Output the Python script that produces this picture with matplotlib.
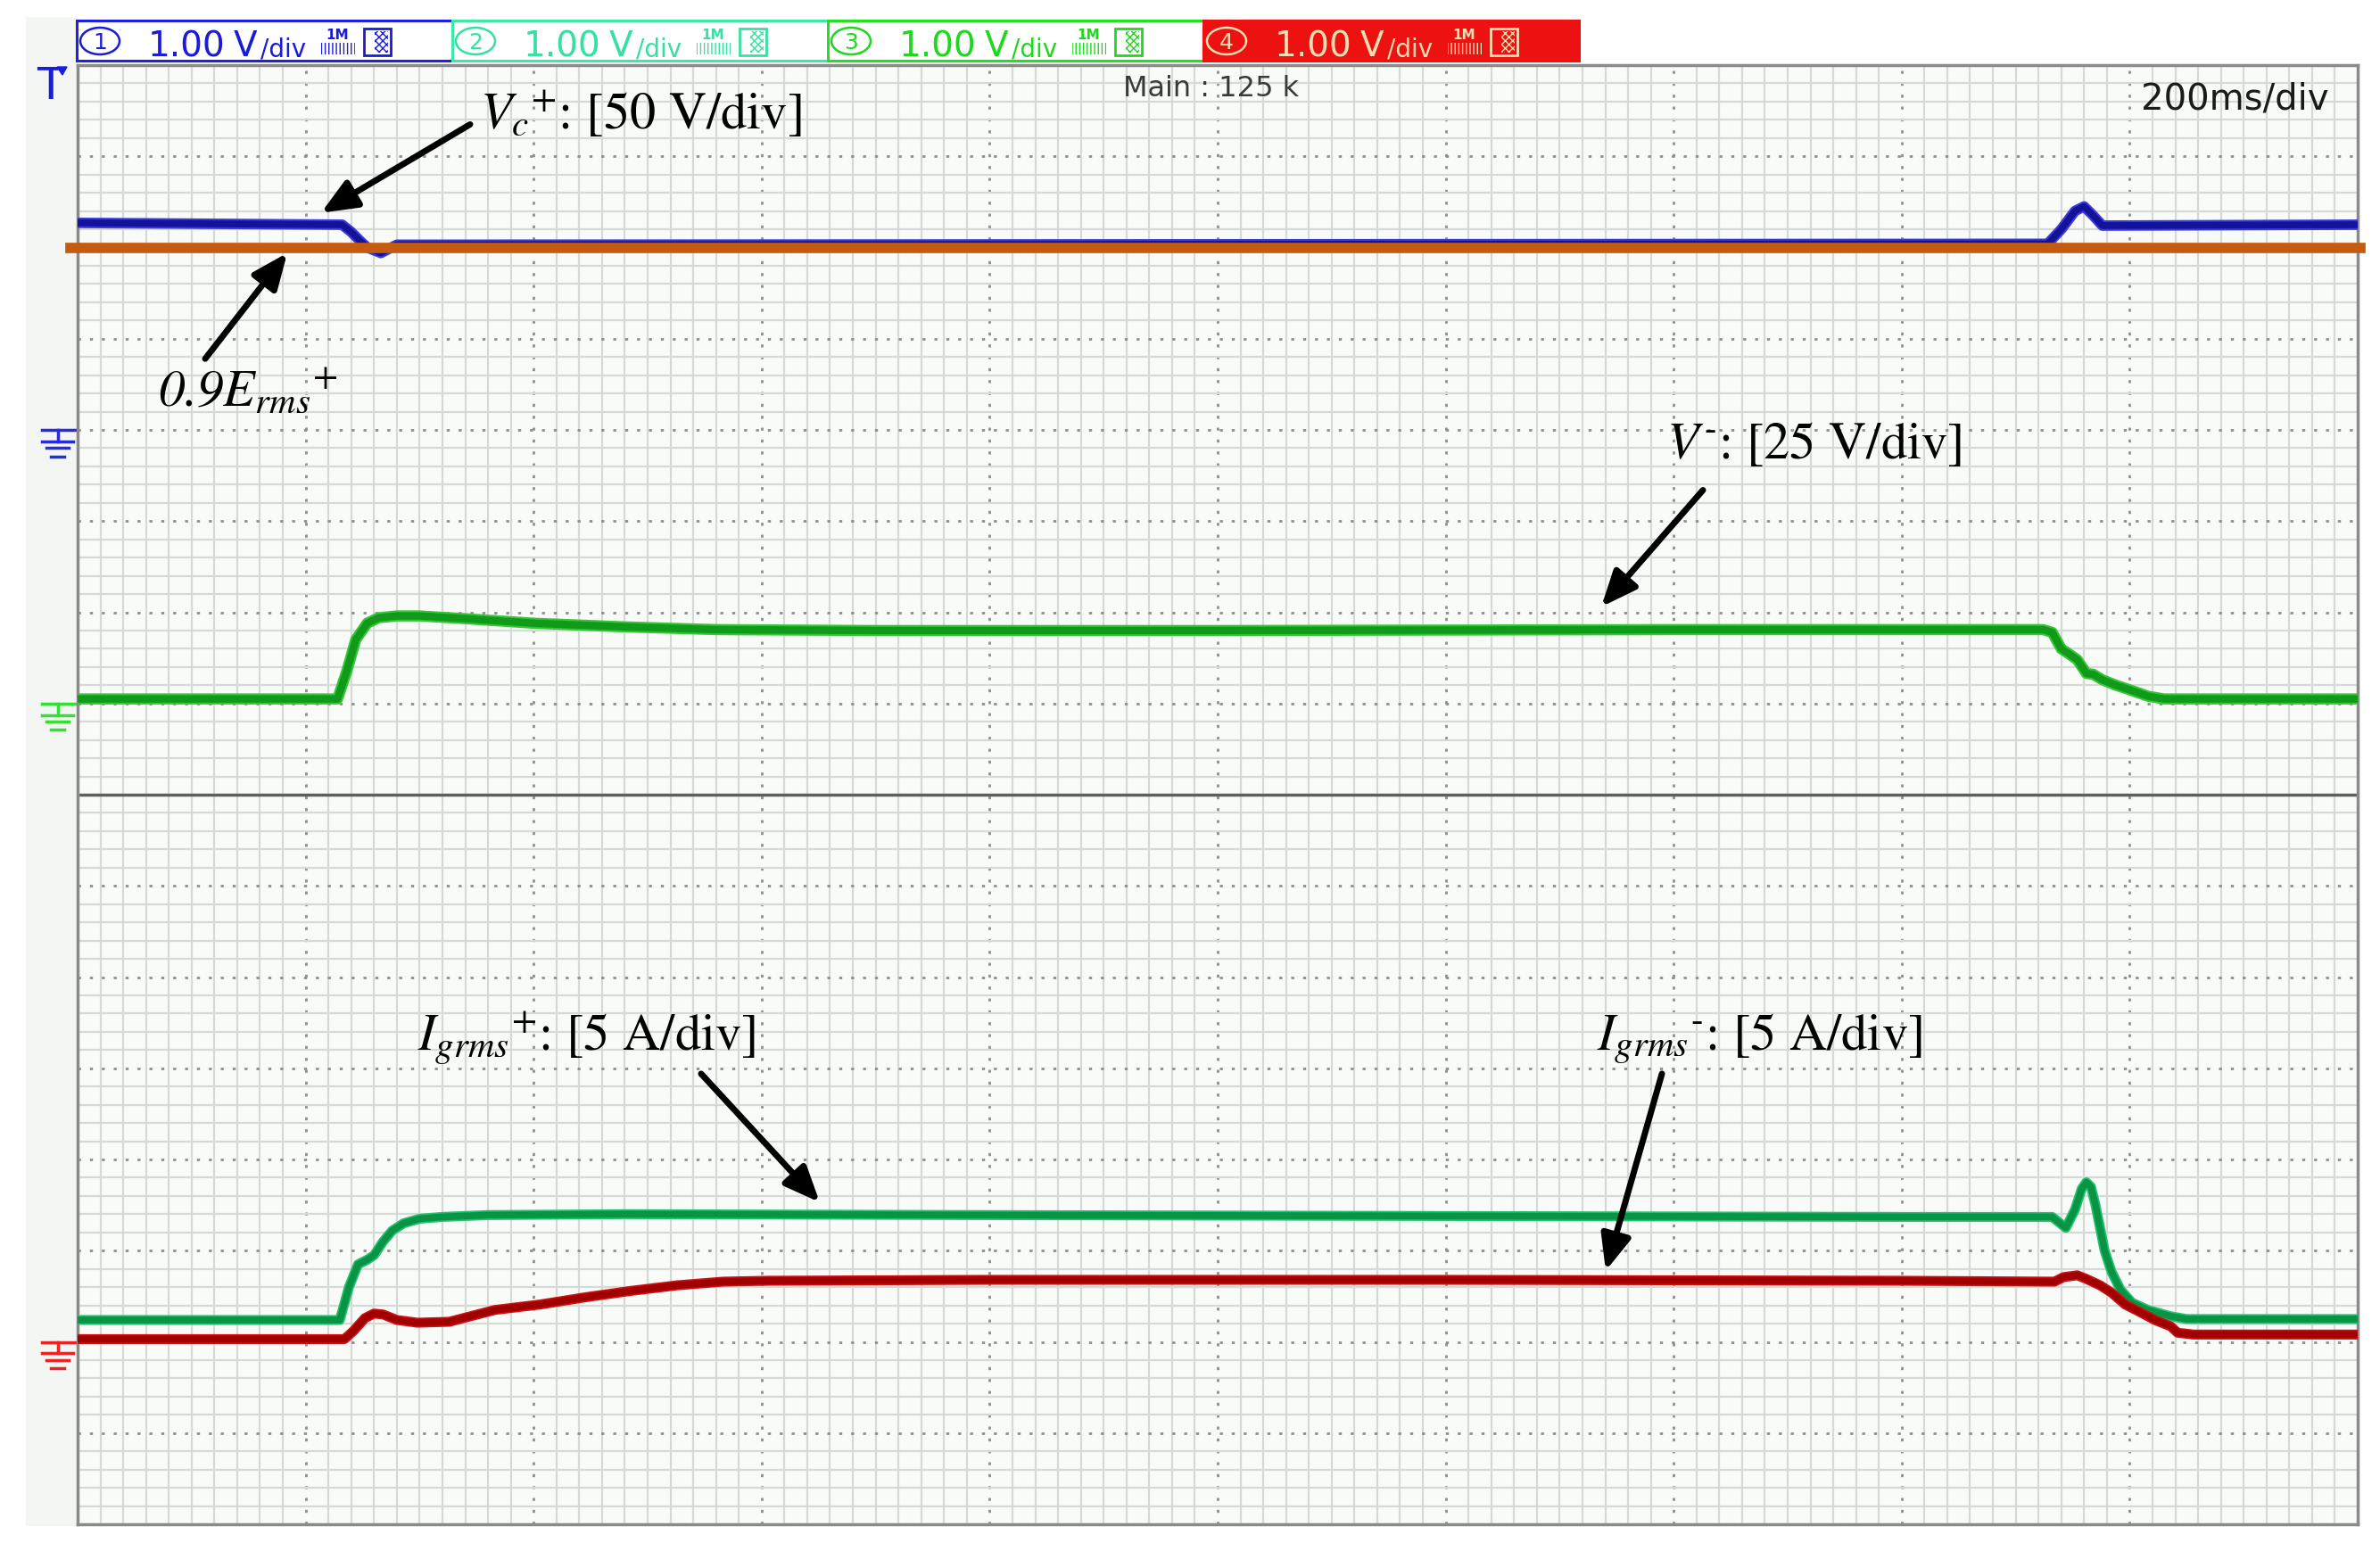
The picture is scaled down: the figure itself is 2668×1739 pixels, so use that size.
import numpy as np
import matplotlib.pyplot as plt
from matplotlib.patches import Rectangle, Ellipse, Polygon

plt.rcParams['mathtext.fontset'] = 'stix'

# time in ms (200 ms/div), levels in screen divisions counted from the bottom (16 div tall)
vc_t = [0, 232, 240, 248, 254, 266, 280, 1728, 1740, 1752, 1760, 1768, 1776, 2000]
vc_v = [14.27, 14.25, 14.17, 14.07, 14.00, 13.94, 14.03, 14.04, 14.20, 14.40, 14.45, 14.35, 14.24, 14.25]

erms_level = 14.0

vneg_t = [0, 228, 236, 244, 254, 264, 280, 300, 340, 400, 480, 560, 700, 1000, 1400, 1724,
          1732, 1740, 1746, 1754, 1762, 1768, 1776, 1788, 1800, 1816, 1830, 2000]
vneg_v = [9.05, 9.05, 9.35, 9.70, 9.88, 9.94, 9.96, 9.96, 9.93, 9.88, 9.84, 9.81, 9.80, 9.80, 9.81, 9.81,
          9.78, 9.60, 9.55, 9.48, 9.33, 9.32, 9.26, 9.20, 9.15, 9.08, 9.05, 9.05]

igp_t = [0, 230, 238, 246, 254, 260, 268, 276, 286, 300, 320, 360, 480, 800, 1200, 1600, 1732,
         1744, 1752, 1758, 1762, 1766, 1770, 1774, 1778, 1784, 1792, 1802, 1816, 1836, 1850, 2000]
igp_v = [2.24, 2.24, 2.60, 2.85, 2.90, 2.95, 3.10, 3.22, 3.30, 3.35, 3.37, 3.39, 3.40, 3.39, 3.38, 3.37, 3.37,
         3.25, 3.45, 3.68, 3.75, 3.70, 3.50, 3.25, 3.00, 2.77, 2.57, 2.43, 2.35, 2.28, 2.25, 2.25]

ign_t = [0, 234, 242, 252, 260, 268, 280, 298, 326, 366, 406, 446, 486, 526, 566, 606, 800, 1200, 1600,
         1734, 1742, 1754, 1762, 1774, 1784, 1796, 1810, 1822, 1836, 1842, 1856, 2000]
ign_v = [2.03, 2.03, 2.12, 2.26, 2.31, 2.30, 2.24, 2.21, 2.22, 2.35, 2.41, 2.49, 2.56, 2.62, 2.66, 2.67, 2.68,
         2.68, 2.67, 2.66, 2.71, 2.73, 2.69, 2.62, 2.54, 2.41, 2.32, 2.24, 2.17, 2.10, 2.08, 2.08]

gnd_levels = [12.0, 9.0, 2.0]
gnd_colors = ['#2a2ae0', '#33e033', '#ee2222']

ch_names = ['1', '2', '3', '4']
ch_scale = ['1.00', '1.00', '1.00', '1.00']
ch_edge = ['#2020e0', '#40e8a8', '#22e022', '#ee1111']
ch_face = ['white', 'white', 'white', '#ee1111']
ch_text = ['#1a1ad8', '#36e0a0', '#1ed81e', '#f3dcb0']

labels = [r'$V_c{}^{+}$: [50 V/div]', r'0.9$E_{rms}{}^{+}$', r'$V^{\text{-}}$: [25 V/div]',
          r'$I_{grms}{}^{+}$: [5 A/div]', r'$I_{grms}{}^{\text{-}}$: [5 A/div]']
label_style = ['normal', 'italic', 'normal', 'normal', 'normal']
label_xy = [(352.9, 15.31), (70.4, 12.27), (1393.6, 11.70), (298.1, 5.21), (1332.5, 5.21)]
arrow_tail = [(344.3, 15.35), (111.9, 12.78), (1425.7, 11.34), (546.9, 4.94), (1389.7, 4.94)]
arrow_tip = [(213.6, 14.38), (183.9, 13.94), (1336.5, 10.06), (651.0, 3.53), (1340.4, 2.78)]

W, H = 2668, 1740
fig = plt.figure(figsize=(W / 100, H / 100), dpi=100)


def fx(px):
    return px / W


def fy(py):
    return 1 - py / H


# light panel strip left of the screen
fig.add_artist(Rectangle((fx(29), fy(1712)), (87 - 29) / W, (1712 - 20) / H,
                         facecolor='#f3f6f3', edgecolor='none', zorder=0))

ax = fig.add_axes([fx(87), fy(1710), (2643 - 87) / W, (1710 - 74) / H])
ax.set_facecolor('#f8fbf8')
ax.set_xlim(0, 2000)
ax.set_ylim(0, 16)
ax.set_xticks(np.arange(0, 2001, 200))
ax.set_xticks(np.arange(0, 2001, 20), minor=True)
ax.set_yticks(np.arange(0, 16.01, 1))
ax.set_yticks(np.arange(0, 16.01, 0.2), minor=True)
ax.tick_params(which='both', length=0, labelbottom=False, labelleft=False)
ax.grid(which='minor', color='#d6dad6', lw=1.6)
ax.grid(which='major', color='#8e8e8e', lw=2.0, linestyle=(0, (1.2, 3.6)))
ax.set_axisbelow(True)
for s in ax.spines.values():
    s.set_color('#8a8a8a')
    s.set_linewidth(2.5)
ax.axhline(8, color='#5f5f5f', lw=2.5, zorder=1.5)

# traces: lighter noise band under a darker core
ax.plot(vc_t, vc_v, color='#3a3ad8', lw=8.5, solid_capstyle='butt', zorder=3)
ax.plot(vc_t, vc_v, color='#12129a', lw=5.5, solid_capstyle='butt', zorder=3)
ax.axhline(erms_level, xmin=-0.003, xmax=1.001, color='#c55a11', lw=8.4, clip_on=False, zorder=4)

ax.plot(vneg_t, vneg_v, color='#35c535', lw=9, solid_capstyle='butt', zorder=3)
ax.plot(vneg_t, vneg_v, color='#0f9a1a', lw=6, solid_capstyle='butt', zorder=3)

ax.plot(igp_t, igp_v, color='#25c070', lw=8, solid_capstyle='butt', zorder=3)
ax.plot(igp_t, igp_v, color='#079445', lw=5.5, solid_capstyle='butt', zorder=3)

ax.plot(ign_t, ign_v, color='#cc1010', lw=8, solid_capstyle='butt', zorder=3)
ax.plot(ign_t, ign_v, color='#a00000', lw=5.5, solid_capstyle='butt', zorder=3)

# ground markers at the left edge
for lev, c in zip(gnd_levels, gnd_colors):
    ax.plot([-31.3, -0.8], [lev, lev], color=c, lw=2.5, clip_on=False)
    ax.plot([-17.2, -17.2], [lev, lev - 0.127], color=c, lw=2.5, clip_on=False)
    ax.plot([-31.3, -3.9], [lev - 0.127] * 2, color=c, lw=2.5, clip_on=False)
    ax.plot([-27.4, -7.8], [lev - 0.2] * 2, color=c, lw=2.5, clip_on=False)
    ax.plot([-23.5, -11.7], [lev - 0.29] * 2, color=c, lw=2.5, clip_on=False)

# annotations
for s, st, xy, tail, tip in zip(labels, label_style, label_xy, arrow_tail, arrow_tip):
    ax.text(xy[0], xy[1], s, fontsize=42, family='STIXGeneral', fontstyle=st,
            ha='left', va='baseline', zorder=6)
    ax.annotate('', xy=tip, xytext=tail, zorder=6,
                arrowprops=dict(arrowstyle='-|>,head_length=0.8,head_width=0.34', color='k',
                                lw=5, mutation_scale=30, shrinkA=0, shrinkB=0))

# channel header boxes
box_x0 = [86, 507, 928, 1349]
for x0, name, sc, ec, fc, tc in zip(box_x0, ch_names, ch_scale, ch_edge, ch_face, ch_text):
    fig.add_artist(Rectangle((fx(x0), fy(69)), 421 / W, 45 / H, facecolor=fc, edgecolor=ec, lw=2.2))
    fig.add_artist(Ellipse((fx(x0 + 26), fy(47)), 44 / W, 30 / H, fill=False, edgecolor=tc, lw=1.8))
    fig.text(fx(x0 + 26), fy(48), name, color=tc, fontsize=18, ha='center', va='center')
    fig.text(fx(x0 + 80), fy(63), sc, color=tc, fontsize=28, ha='left', va='baseline')
    fig.text(fx(x0 + 176), fy(63), 'V', color=tc, fontsize=28, ha='left', va='baseline')
    fig.text(fx(x0 + 206), fy(63), '/div', color=tc, fontsize=20, ha='left', va='baseline')
    fig.text(fx(x0 + 292), fy(40), '1M', color=tc, fontsize=11, fontweight='bold', ha='center', va='center')
    fig.add_artist(Rectangle((fx(x0 + 274), fy(62)), 38 / W, 13 / H, facecolor='none',
                             edgecolor=tc, hatch='||||', lw=0))
    fig.add_artist(Rectangle((fx(x0 + 322), fy(63)), 30 / W, 30 / H, facecolor='none', edgecolor=tc, lw=2))
    fig.add_artist(Rectangle((fx(x0 + 334), fy(60)), 15 / W, 24 / H, facecolor='none',
                             edgecolor=tc, hatch='xxxx', lw=0))

fig.text(fx(1358), fy(99), 'Main : 125 k', color='#3a3a3a', fontsize=23, ha='center', va='center')
fig.text(fx(2611), fy(122), '200ms/div', color='#1a1a1a', fontsize=29, ha='right', va='baseline')

# trigger marker
fig.text(fx(56), fy(97), 'T', color='#1a1ae0', fontsize=36, ha='center', va='center')
fig.add_artist(Polygon([(fx(64), fy(76)), (fx(75), fy(76)), (fx(70), fy(85))], closed=True,
                       color='#1a1ae0'))

fig.savefig('out.png', dpi=100)
